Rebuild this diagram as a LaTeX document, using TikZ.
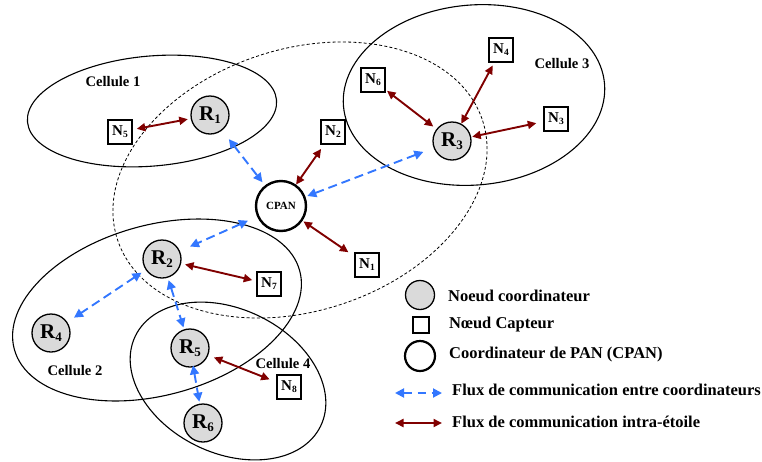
\documentclass[tikz,border=0pt]{standalone}
\usepackage{fontspec}
\setmainfont{Liberation Serif}
\usetikzlibrary{arrows.meta}
\definecolor{fluxblue}{RGB}{51,119,255}
\definecolor{starred}{RGB}{128,0,0}
\definecolor{nodegray}{RGB}{218,218,218}
\newcommand{\Rlab}[1]{\fontsize{21}{21}\selectfont R\raisebox{-2.5pt}{\fontsize{13}{13}\selectfont #1}}
\newcommand{\Nlab}[1]{\fontsize{15}{15}\selectfont N\raisebox{-2pt}{\fontsize{9.5}{9.5}\selectfont #1}}
\tikzset{
  every node/.style={font=\bfseries},
  coordnode/.style={circle, draw, fill=nodegray, line width=1.3pt, minimum size=38pt, inner sep=0pt},
  sensor/.style={rectangle, draw, line width=2.2pt, minimum size=23.5pt, inner sep=0pt},
  pannode/.style={circle, draw, line width=2.4pt, minimum size=50pt, inner sep=0pt},
  cell/.style={line width=1.1pt},
  zone/.style={line width=0.8pt, dash pattern=on 3pt off 2.2pt},
  flux/.style={line width=1.9pt, fluxblue, dash pattern=on 9pt off 5pt,
    {Triangle[length=9pt,width=9pt]}-{Triangle[length=9pt,width=9pt]}},
  star/.style={line width=1.9pt, starred,
    {Triangle[length=8.5pt,width=8pt]}-{Triangle[length=8.5pt,width=8pt]}},
  celltxt/.style={font=\fontsize{14.6}{16}\selectfont\bfseries},
  legtxt/.style={font=\fontsize{16.5}{18}\selectfont\bfseries, anchor=west, inner sep=0pt}
}
\begin{document}
\begin{tikzpicture}[x=1pt,y=-1pt]
\useasboundingbox (0,0) rectangle (762,461);
% ellipses
\draw[zone, rotate around={18:(300,180)}] (300,180) ellipse [x radius=192, y radius=131];
\draw[cell, rotate around={5:(152,111)}] (152,111) ellipse [x radius=125, y radius=55];
\draw[cell, rotate around={15.5:(157,310)}] (157,310) ellipse [x radius=148, y radius=85];
\draw[cell, rotate around={5:(474,95)}] (474,95) ellipse [x radius=131, y radius=90];
\draw[cell, rotate around={-26:(228,381)}] (228,381) ellipse [x radius=103, y radius=72];
% cell labels
\node[celltxt] (c1) at (113,82) {Cellule 1};
\node[celltxt] (c2) at (75,371) {Cellule 2};
\node[celltxt] (c3) at (562,64) {Cellule 3};
\node[celltxt] (c4) at (283,364) {Cellule 4};
% nodes
\node[pannode] (CPAN) at (281,206) {\fontsize{11}{11}\selectfont CPAN};
\node[coordnode] (R1) at (210,115) {\Rlab{1}};
\node[coordnode] (R2) at (162,259) {\Rlab{2}};
\node[coordnode] (R3) at (452,141) {\Rlab{3}};
\node[coordnode] (R4) at (51,333) {\Rlab{4}};
\node[coordnode] (R5) at (190,348) {\Rlab{5}};
\node[coordnode] (R6) at (203,423) {\Rlab{6}};
\node[sensor] (N1) at (367,265) {\Nlab{1}};
\node[sensor] (N2) at (333,132) {\Nlab{2}};
\node[sensor] (N3) at (556,119) {\Nlab{3}};
\node[sensor] (N4) at (501,50) {\Nlab{4}};
\node[sensor] (N5) at (120,132) {\Nlab{5}};
\node[sensor] (N6) at (373,80) {\Nlab{6}};
\node[sensor] (N7) at (269,284) {\Nlab{7}};
\node[sensor] (N8) at (289,387) {\Nlab{8}};
% connectors
\draw[star, shorten <=4pt, shorten >=3pt] (N5) -- (R1);
\draw[flux, shorten <=11pt, shorten >=4pt] (R1) -- (CPAN);
\draw[star, shorten <=0pt, shorten >=5pt] (CPAN) -- (N2);
\draw[flux, shorten <=2pt, shorten >=11pt] (CPAN) -- (R3);
\draw[flux, shorten <=10pt, shorten >=11pt] (CPAN) -- (R2);
\draw[star, shorten <=1pt, shorten >=7pt] (CPAN) -- (N1);
\draw[star, shorten <=4pt, shorten >=4pt] (R2) -- (N7);
\draw[flux, shorten <=5pt, shorten >=8pt] (R2) -- (R4);
\draw[flux, shorten <=2.5pt, shorten >=2pt] (R2) -- (R5);
\draw[flux, shorten <=-2pt, shorten >=2pt] (R5) -- (R6);
\draw[star, shorten <=6pt, shorten >=7pt] (R5) -- (N8);
\draw[star, shorten <=4pt, shorten >=1.5pt] (R3) -- (N6);
\draw[star, shorten <=0pt, shorten >=3pt] (R3) -- (N4);
\draw[star, shorten <=1pt, shorten >=7pt] (R3) -- (N3);
% legend
\node[coordnode, minimum size=29pt, line width=1.3pt] (L1) at (420,295) {};
\node[sensor, minimum size=16pt, line width=2pt] (L2) at (421,325) {};
\node[pannode, minimum size=30pt, line width=2.2pt] (L3) at (420,356) {};
\coordinate (fa) at (395,393);
\coordinate (fb) at (442,393);
\coordinate (sa) at (395,423);
\coordinate (sb) at (442,423);
\draw[flux, dash pattern=on 8pt off 6pt] (fa) -- (fb);
\draw[star] (sa) -- (sb);
\node[legtxt] (t1) at (448,296) {Noeud coordinateur};
\node[legtxt] (t2) at (449,325) {Nœud Capteur};
\node[legtxt] (t3) at (449,355) {Coordinateur de PAN (CPAN)};
\node[legtxt] (t4) at (452,390) {Flux de communication entre coordinateurs};
\node[legtxt] (t5) at (452,422) {Flux de communication intra-étoile};
\end{tikzpicture}
\end{document}
